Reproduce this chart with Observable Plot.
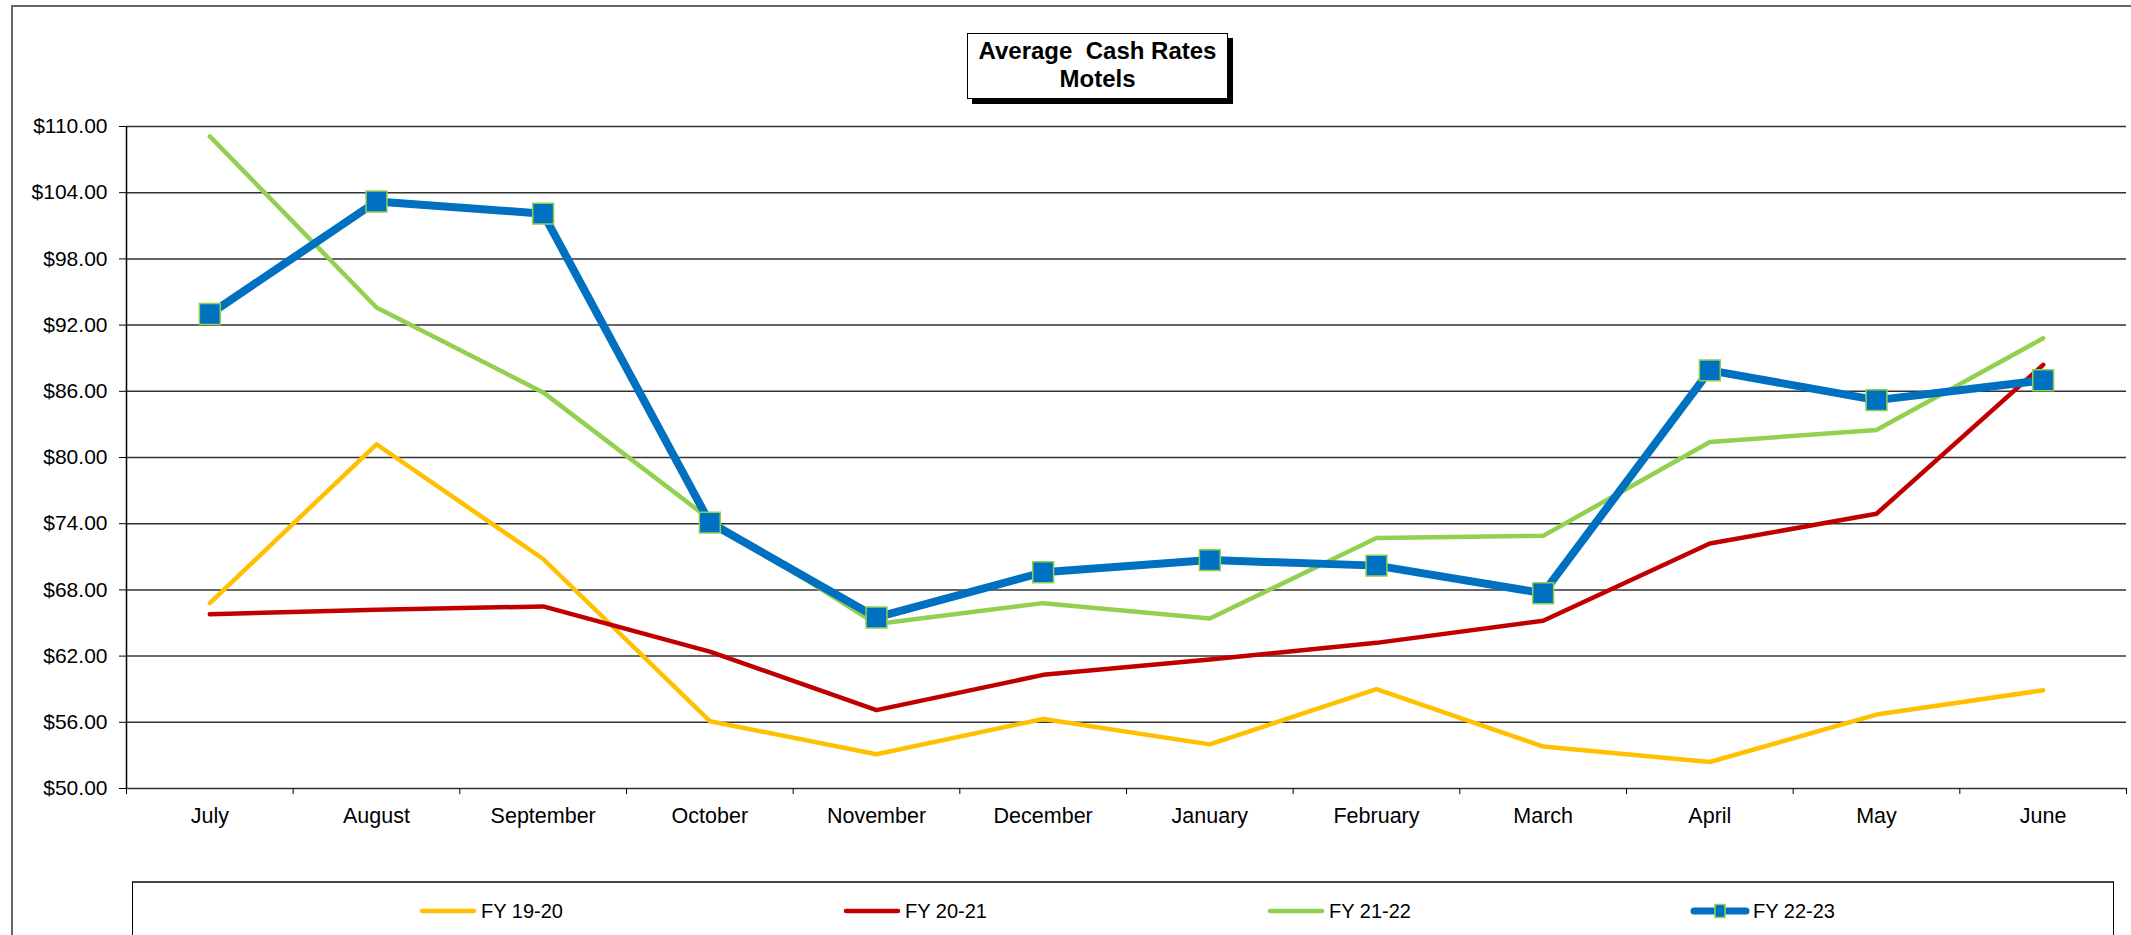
<!DOCTYPE html>
<html><head><meta charset="utf-8">
<script src="https://cdn.jsdelivr.net/npm/d3@7"></script>
<script src="https://cdn.jsdelivr.net/npm/@observablehq/plot@0.6"></script>
<style>
html,body{margin:0;padding:0;background:#fff;overflow:hidden}
#root{position:relative;width:2131px;height:935px;overflow:hidden;font-family:"Liberation Sans",Arial,sans-serif;color:#000;background:#fff}
#chart{position:absolute;left:0;top:0}
#frame{position:absolute;left:11px;top:5px;width:2200px;height:1000px;border:2px solid #666;box-sizing:border-box;pointer-events:none}
#title{position:absolute;left:967px;top:33px;width:261px;height:66px;box-sizing:border-box;border:1.5px solid #000;box-shadow:5px 5px 0 #000;background:#fff;text-align:center;font-weight:bold;font-size:24px;line-height:28px;padding-top:3px;white-space:nowrap}
#legend{position:absolute;left:132px;top:881px;width:1982px;height:100px;box-sizing:border-box;border:1px solid #000;border-top:2px solid #444;background:#fff}
.item{position:absolute;top:899px;height:24px;display:flex;align-items:center;font-size:20px;white-space:nowrap}
.item svg{display:block;margin-right:3px}
</style>
</head><body>
<div id="root">
  <div id="chart"></div>
  <div id="title">Average&nbsp; Cash Rates<br>Motels</div>
  <div id="legend"></div>
  <div id="frame"></div>
</div>
<script>
// ---- data ----
const months = ["July","August","September","October","November","December","January","February","March","April","May","June"];
const seriesNames = ["FY 19-20","FY 20-21","FY 21-22","FY 22-23"];
const fy1920 = [66.8, 81.2, 70.8, 56.1, 53.1, 56.3, 54.0, 59.0, 53.8, 52.4, 56.7, 58.9];
const fy2021 = [65.8, 66.2, 66.5, 62.4, 57.1, 60.3, 61.7, 63.2, 65.2, 72.2, 74.9, 88.4];
const fy2122 = [109.1, 93.6, 85.9, 74.4, 64.9, 66.8, 65.4, 72.7, 72.9, 81.4, 82.5, 90.8];
const fy2223 = [93.0, 103.2, 102.1, 74.1, 65.5, 69.6, 70.7, 70.2, 67.7, 87.9, 85.2, 87.0];
const yTicks = [50, 56, 62, 68, 74, 80, 86, 92, 98, 104, 110];

// ---- styles ----
const seriesColors = ["#FFC000", "#C00000", "#92D050", "#0070C0"];
const seriesWidths = [4.5, 4.5, 4.5, 8];
const markerStroke = "#92D050";

const allValues = [fy1920, fy2021, fy2122, fy2223];
const rows = allValues.flatMap((vals, k) => vals.map((v, i) => ({i, v, s: seriesNames[k], k})));
const idx = d3.range(months.length);
const bounds = d3.range(months.length + 1).map(i => i - 0.5);

const lineMarks = seriesNames.map((name, k) =>
  Plot.line(rows.filter(r => r.k === k), {
    x: "i", y: "v", stroke: seriesColors[k], strokeWidth: seriesWidths[k],
    strokeLinejoin: "round", strokeLinecap: "round"
  })
);

const chart = Plot.plot({
  width: 2131,
  height: 850,
  marginLeft: 126,
  marginRight: 5,
  marginTop: 126,
  marginBottom: 62,
  style: {background: "transparent", fontFamily: "Liberation Sans, Arial, sans-serif", fontSize: "21px", color: "#000", overflow: "visible"},
  x: {domain: [-0.5, months.length - 0.5]},
  y: {domain: [50, 110]},
  marks: [
    Plot.gridY(yTicks, {stroke: "#333", strokeOpacity: 1, strokeWidth: 1.5}),
    Plot.ruleX([-0.5], {stroke: "#000", strokeWidth: 1.5}),
    Plot.axisY(yTicks, {tickSize: 7, tickPadding: 12, tickFormat: d => "$" + d.toFixed(2), fontSize: 21, label: null}),
    Plot.axisX(bounds, {tickSize: 6, tickFormat: () => "", label: null}),
    Plot.axisX(idx, {tickSize: 0, tickPadding: 19, tickFormat: i => months[i], fontSize: 21.5, label: null}),
    ...lineMarks,
    Plot.dot(rows.filter(r => r.k === 3), {
      x: "i", y: "v", symbol: "square", r: 11.8,
      fill: seriesColors[3], stroke: markerStroke, strokeWidth: 1.5
    })
  ]
});
document.getElementById("chart").appendChild(chart);

// ---- legend ----
const root = document.getElementById("root");
const legendLeft = [418, 842, 1266, 1690];
seriesNames.forEach((name, k) => {
  const item = document.createElement("div");
  item.className = "item";
  item.style.left = legendLeft[k] + "px";
  const w = 60, h = 24;
  let svg = `<svg width="${w}" height="${h}"><line x1="4" x2="${w-4}" y1="${h/2}" y2="${h/2}" stroke="${seriesColors[k]}" stroke-width="${k===3?7:4.5}" stroke-linecap="round"/>`;
  if (k === 3) svg += `<rect x="${w/2-5}" y="${h/2-6.5}" width="10" height="13" fill="${seriesColors[3]}" stroke="${markerStroke}" stroke-width="1.5"/>`;
  svg += `</svg>`;
  item.innerHTML = svg + `<span>${name}</span>`;
  root.appendChild(item);
});
</script>
</body></html>
